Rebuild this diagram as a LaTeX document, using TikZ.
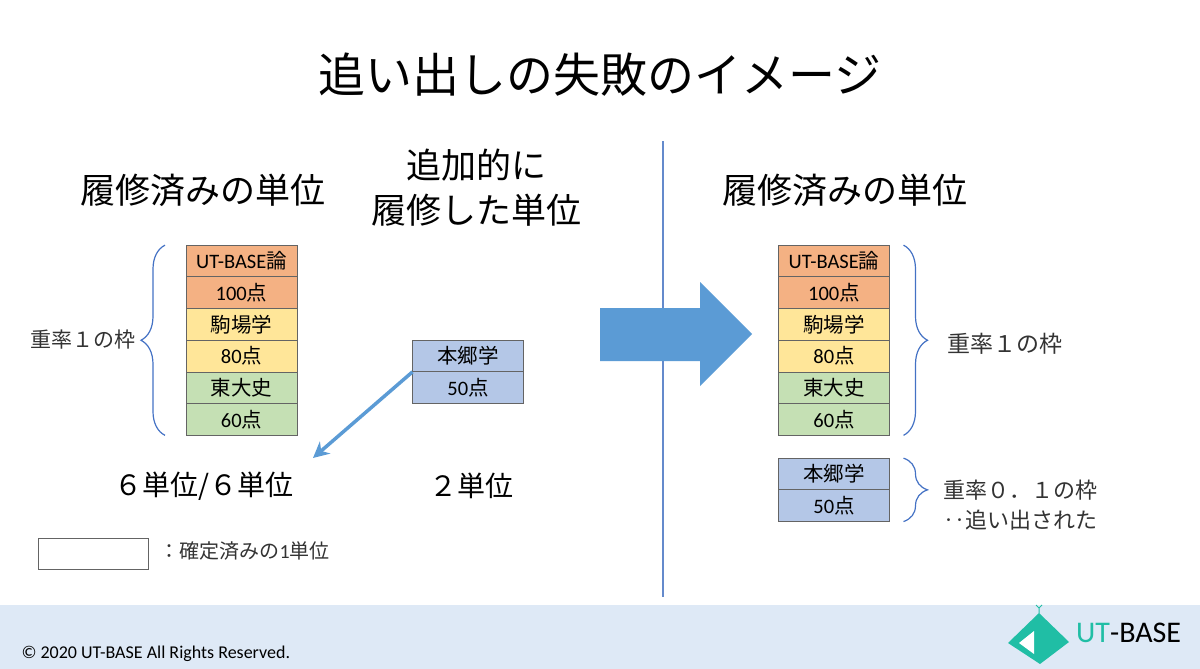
\documentclass[tikz,border=0pt]{standalone}
\usepackage{fontspec}
\setmainfont{Noto Sans CJK JP}
\newfontfamily\latinfont{Carlito}
\usepackage{tikz}
\usetikzlibrary{arrows.meta,positioning,decorations.pathreplacing}
\definecolor{utorange}{RGB}{244,177,131}
\definecolor{utyellow}{RGB}{255,230,153}
\definecolor{utgreen}{RGB}{197,224,180}
\definecolor{utblue}{RGB}{180,199,231}
\definecolor{utarrow}{RGB}{91,155,213}
\definecolor{utline}{RGB}{100,138,204}
\definecolor{utbrace}{RGB}{68,114,196}
\definecolor{utfooter}{RGB}{222,233,246}
\definecolor{utteal}{RGB}{32,190,165}
\definecolor{utgray}{RGB}{100,100,100}
\tikzstyle{unitbox} = [draw=utgray, line width=0.8pt, minimum width=111pt, minimum height=31.7pt, inner sep=0pt, outer sep=0pt, font=\fontsize{20.5}{20.5}\selectfont]
\tikzstyle{brace} = [decorate, decoration={brace, amplitude=24pt}, draw=utbrace, line width=1.2pt]
\tikzstyle{heading} = [font=\fontsize{35}{45}\selectfont, align=center]

\begin{document}
\begin{tikzpicture}[x=1pt,y=-1pt]
\useasboundingbox (0,0) rectangle (1200,669);
% Footer band
\fill[utfooter] (0,605) rectangle (1200,669);
\node[anchor=west, font=\latinfont\fontsize{18}{18}\selectfont] (copyright) at (18,654) {© 2020 UT-BASE All Rights Reserved.};

% Title and headings
\node[font=\fontsize{47}{47}\selectfont] (title) at (600,75) {追い出しの失敗のイメージ};
\node[heading] (donehead) at (203,190) {履修済みの単位};
\node[heading] (addhead) at (476,188) {追加的に\\履修した単位};
\node[heading] (afterhead) at (845,190) {履修済みの単位};

% Units already taken
\node[unitbox, fill=utorange] (l1) at (241.5,261) {{\latinfont UT-BASE}論};
\node[unitbox, fill=utorange, below=0pt of l1] (l2) {{\latinfont 100}点};
\node[unitbox, fill=utyellow, below=0pt of l2] (l3) {駒場学};
\node[unitbox, fill=utyellow, below=0pt of l3] (l4) {{\latinfont 80}点};
\node[unitbox, fill=utgreen, below=0pt of l4] (l5) {東大史};
\node[unitbox, fill=utgreen, below=0pt of l5] (l6) {{\latinfont 60}点};
\draw[brace] ([xshift=-21pt]l6.south west) -- ([xshift=-21pt]l1.north west);
\node[anchor=east, font=\fontsize{21}{21}\selectfont, text=black!80] (leftframe) at (139,340) {重率１の枠};

% Additional unit
\node[unitbox, fill=utblue] (a1) at (468,356) {本郷学};
\node[unitbox, fill=utblue, below=0pt of a1] (a2) {{\latinfont 50}点};
\coordinate (drop) at (313,458);
\draw[utarrow, line width=3.5pt, -{Stealth[length=16pt, width=16pt]}] (a1.south west) -- (drop);

% Totals
\node[font=\fontsize{28}{28}\selectfont] (lefttotal) at (204,486) {６単位/６単位};
\node[font=\fontsize{28}{28}\selectfont] (addtotal) at (471,486) {２単位};

% Legend
\node[draw=utgray, line width=0.8pt, minimum width=110pt, minimum height=31pt, inner sep=0pt] (legendbox) at (93,553.5) {};
\node[anchor=west, font=\fontsize{20}{20}\selectfont, text=black!80] (legendtext) at (156,551) {：確定済みの{\latinfont 1}単位};

% Divider and big arrow
\coordinate (divtop) at (663,141);
\coordinate (divbot) at (663,597);
\draw[utline, line width=1.5pt] (divtop) -- (divbot);
\fill[utarrow] (600,308) -- (700,308) -- (700,282) -- (752,334) -- (700,386) -- (700,361) -- (600,361) -- cycle;

% After the push-out
\node[unitbox, fill=utorange] (r1) at (834,261) {{\latinfont UT-BASE}論};
\node[unitbox, fill=utorange, below=0pt of r1] (r2) {{\latinfont 100}点};
\node[unitbox, fill=utyellow, below=0pt of r2] (r3) {駒場学};
\node[unitbox, fill=utyellow, below=0pt of r3] (r4) {{\latinfont 80}点};
\node[unitbox, fill=utgreen, below=0pt of r4] (r5) {東大史};
\node[unitbox, fill=utgreen, below=0pt of r5] (r6) {{\latinfont 60}点};
\draw[brace] ([xshift=14pt]r1.north east) -- ([xshift=14pt]r6.south east);
\node[anchor=west, font=\fontsize{23}{23}\selectfont, text=black!80] (rightframe) at (944,344) {重率１の枠};

\node[unitbox, fill=utblue] (r7) at (834,474) {本郷学};
\node[unitbox, fill=utblue, below=0pt of r7] (r8) {{\latinfont 50}点};
\draw[brace] ([xshift=14pt]r7.north east) -- ([xshift=14pt]r8.south east);
\node[anchor=west, align=left, font=\fontsize{22}{30}\selectfont, text=black!80] (pushedout) at (940,505) {重率０．１の枠\\‥追い出された};

% Logo
\fill[utteal] (1039,613) -- (1069,642) -- (1040,664) -- (1008,643) -- cycle;
\fill[white] (1019,643) -- (1034,631) -- (1034,654) -- cycle;
\draw[utteal, line width=1pt] (1039,613) -- (1039,608) (1036,605) -- (1039,608) -- (1042,605);
\node[anchor=base west, inner sep=0pt, font=\latinfont\fontsize{30}{30}\selectfont] (logo) at (1076,642) {\textcolor{utteal}{UT}-BASE};
\end{tikzpicture}
\end{document}
